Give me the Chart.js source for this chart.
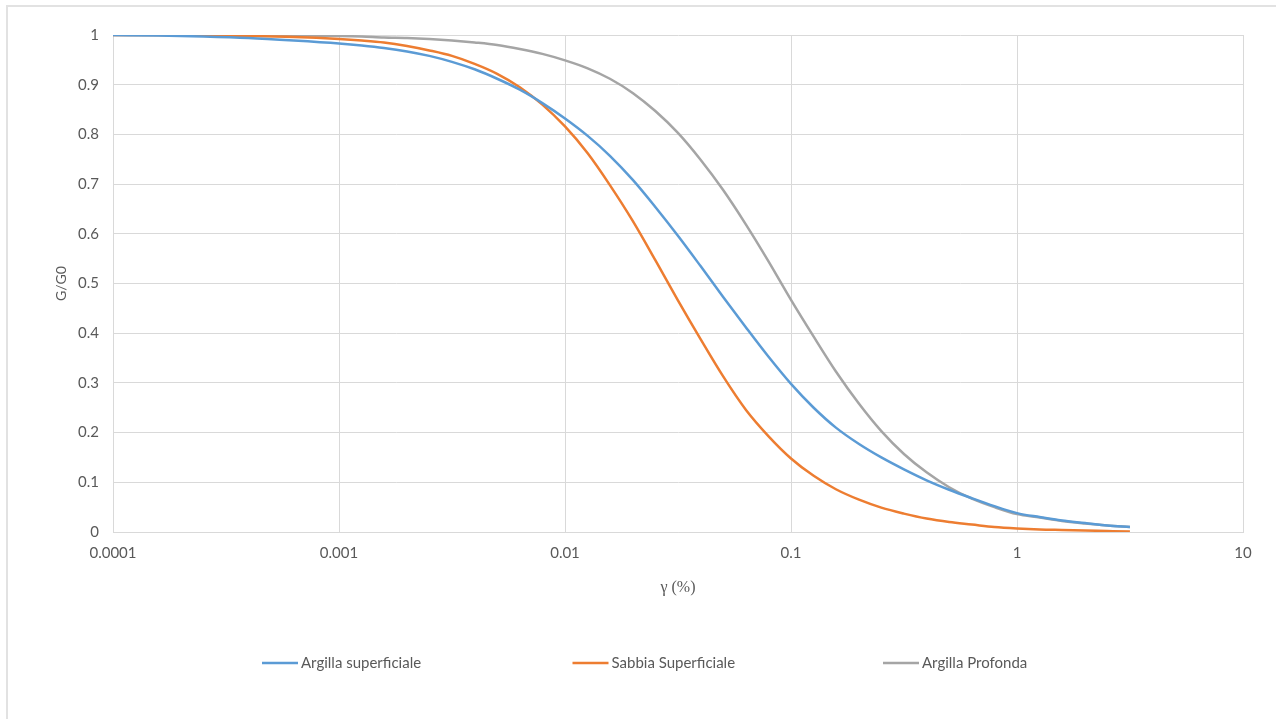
<!DOCTYPE html>
<html lang="it">
<head>
<meta charset="utf-8">
<title>G/G0 - γ</title>
<script src="https://cdn.jsdelivr.net/npm/chart.js"></script>
<style>
  html, body { margin: 0; padding: 0; background: #fff; overflow: hidden; }
  .frame {
    position: absolute; left: 6px; top: 5px; width: 1290px; height: 740px;
    border-left: 2px solid #e2e2e2; border-top: 2px solid #e2e2e2;
  }
  #curveChart { position: absolute; left: 0; top: 0; }
</style>
</head>
<body>
<div class="frame"></div>
<canvas id="curveChart" width="1276" height="719"></canvas>
<script>
// deformazione di taglio (%)
const gamma = [0.0001, 0.000158, 0.000251, 0.000398, 0.000631,
  0.001, 0.00126, 0.00158, 0.002, 0.00251, 0.00316, 0.00398, 0.00501, 0.00631, 0.00794,
  0.01, 0.0126, 0.0158, 0.02, 0.0251, 0.0316, 0.0398, 0.0501, 0.0631, 0.0794,
  0.1, 0.126, 0.158, 0.2, 0.251, 0.316, 0.398, 0.501, 0.631, 0.794,
  1, 1.26, 1.58, 2, 2.51, 3.16];

// G/G0 per ogni terreno
const argillaSuperficiale = [1.0, 0.999, 0.997, 0.994, 0.989,
  0.983, 0.979, 0.974, 0.967, 0.958, 0.946, 0.931, 0.912, 0.89, 0.863,
  0.832, 0.797, 0.757, 0.708, 0.654, 0.596, 0.535, 0.473, 0.412, 0.353,
  0.298, 0.25, 0.21, 0.177, 0.15, 0.126, 0.104, 0.085, 0.068, 0.052,
  0.038, 0.03, 0.023, 0.018, 0.013, 0.01];
const sabbiaSuperficiale = [1.0, 1.0, 0.999, 0.998, 0.996,
  0.992, 0.989, 0.985, 0.978, 0.969, 0.958, 0.942, 0.922, 0.895, 0.86,
  0.816, 0.762, 0.698, 0.625, 0.547, 0.466, 0.388, 0.313, 0.246, 0.193,
  0.148, 0.113, 0.086, 0.065, 0.049, 0.037, 0.027, 0.02, 0.015, 0.01,
  0.007, 0.005, 0.004, 0.003, 0.002, 0.001];
const argillaProfonda = [1.0, 1.0, 1.0, 0.999, 0.999,
  0.998, 0.997, 0.995, 0.994, 0.992, 0.989, 0.985, 0.98, 0.972, 0.962,
  0.949, 0.933, 0.912, 0.883, 0.847, 0.803, 0.749, 0.688, 0.619, 0.545,
  0.467, 0.393, 0.323, 0.258, 0.203, 0.157, 0.12, 0.09, 0.067, 0.05,
  0.036, 0.029, 0.022, 0.017, 0.013, 0.01];

const seriesNames = ["Argilla superficiale", "Sabbia Superficiale", "Argilla Profonda"];
const seriesColors = ["#5b9bd5", "#ed7d31", "#a5a5a5"];

const xTickValues = [0.0001, 0.001, 0.01, 0.1, 1, 10];
const xTickLabels = ["0.0001", "0.001", "0.01", "0.1", "1", "10"];

const TEXT = "#595959";
const GRID = "#d9d9d9";
const FONT = "Lato, 'Open Sans', sans-serif";

function toPoints(values) {
  return gamma.map((g, i) => ({ x: g, y: values[i] }));
}

// legenda sotto il grafico, voci distanziate come nel foglio di calcolo
const spacedLegend = {
  id: "spacedLegend",
  afterDraw(chart) {
    const ctx = chart.ctx;
    const y = 663;
    ctx.save();
    ctx.font = "15px " + FONT;
    ctx.textBaseline = "middle";
    ctx.textAlign = "left";
    chart.data.datasets.forEach((ds, i) => {
      const x0 = 262 + i * 310.5;
      ctx.strokeStyle = ds.borderColor;
      ctx.lineWidth = 2.5;
      ctx.beginPath();
      ctx.moveTo(x0, y);
      ctx.lineTo(x0 + 36, y);
      ctx.stroke();
      ctx.fillStyle = TEXT;
      ctx.fillText(ds.label, x0 + 39, y);
    });
    ctx.restore();
  }
};

const datasets = [argillaSuperficiale, sabbiaSuperficiale, argillaProfonda].map((vals, i) => ({
  label: seriesNames[i],
  data: toPoints(vals),
  borderColor: seriesColors[i],
  backgroundColor: seriesColors[i],
  borderWidth: 2.5,
  pointRadius: 0,
  pointHoverRadius: 0,
  fill: false,
  cubicInterpolationMode: "monotone",
}));

new Chart(document.getElementById("curveChart").getContext("2d"), {
  type: "line",
  data: { datasets },
  options: {
    responsive: false,
    animation: false,
    devicePixelRatio: 1,
    layout: { padding: { left: 50, top: 35, right: 33, bottom: 117 } },
    plugins: {
      legend: { display: false },
      tooltip: { enabled: false },
    },
    scales: {
      x: {
        type: "logarithmic",
        min: 0.0001,
        max: 10,
        afterBuildTicks: (scale) => {
          scale.ticks = xTickValues.map((v) => ({ value: v }));
        },
        afterFit: (scale) => { scale.height = 70; },
        grid: { color: GRID, lineWidth: 1, drawTicks: false },
        border: { color: GRID },
        ticks: {
          padding: 12,
          color: TEXT,
          font: { family: FONT, size: 15 },
          maxRotation: 0,
          autoSkip: false,
          callback: (value) => {
            const idx = xTickValues.indexOf(value);
            return idx >= 0 ? xTickLabels[idx] : "";
          },
        },
        title: {
          display: true,
          text: "γ (%)",
          color: TEXT,
          font: { family: "'Liberation Serif', serif", size: 16 },
          padding: { top: 0, bottom: 5 },
        },
      },
      y: {
        min: 0,
        max: 1,
        afterFit: (scale) => { scale.width = 63; },
        grid: { color: GRID, lineWidth: 1, drawTicks: false },
        border: { color: GRID },
        ticks: {
          stepSize: 0.1,
          padding: 14,
          color: TEXT,
          font: { family: FONT, size: 15 },
          callback: (value) => String(Number(value.toFixed(1))),
        },
        title: {
          display: true,
          text: "G/G0",
          color: TEXT,
          font: { family: FONT, size: 14 },
          padding: { top: 3, bottom: 0 },
        },
      },
    },
  },
  plugins: [spacedLegend],
});
</script>
</body>
</html>
